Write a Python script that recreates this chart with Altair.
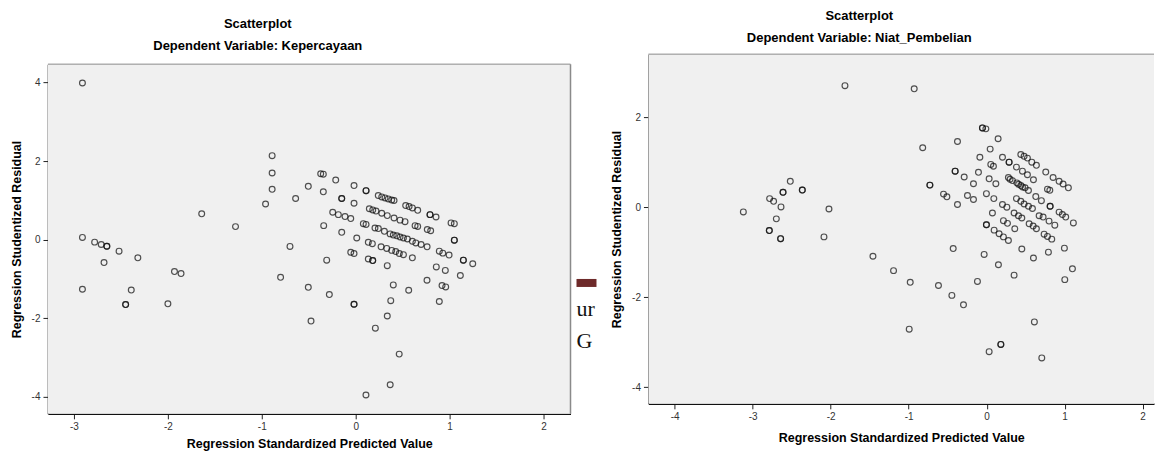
import altair as alt
import pandas as pd

# ---------------- data ----------------
# Left panel: Dependent Variable: Kepercayaan
left_x = [-2.91, -0.89, -0.89, -0.89, -0.96, -0.64, -1.64, -1.28, -2.91, -2.78, -2.71, -2.65, -2.65,
          -2.52, -2.32, -0.70, -2.68, -2.91, -2.39, -2.45, -2.45, -2.00, -1.93, -1.86, -0.80,
          -0.505, -0.373, -0.345, -0.213, -0.345, -0.149, -0.149, -0.018, -0.018, 0.11, 0.11,
          0.24, 0.277, 0.312, 0.347, 0.383, 0.408, 0.532, 0.568, 0.603, 0.66, 0.791, 0.791, 0.855,
          1.015, 1.05, 1.05, 1.05, 1.146, 1.146, 1.246, 1.114, 0.954, 0.858, 0.759, 0.919, 0.958,
          0.89, 0.564, 0.40, 0.373, 0.336, 0.209, 0.463, 0.367, 0.109, -0.018, -0.018, -0.281,
          -0.505, -0.476, -0.309, -0.341, -0.149, 0.011, -0.245, -0.185, -0.114, -0.053, 0.081,
          0.11, 0.145, 0.181, 0.216, 0.277, 0.336, 0.408, 0.472, 0.525, 0.632, 0.66, 0.762, 0.798,
          0.205, 0.241, 0.305, 0.366, 0.40, 0.437, 0.472, 0.508, 0.55, 0.603, 0.64, 0.696, 0.76,
          0.89, 0.927, 0.994, 0.134, 0.177, 0.27, 0.33, 0.383, 0.426, 0.464, 0.508, 0.603,
          -0.053, -0.018, 0.134, 0.181, 0.181, 0.336]
left_y = [3.99, 2.14, 1.70, 1.285, 0.91, 1.05, 0.66, 0.335, 0.06, -0.06, -0.12, -0.165, -0.165,
          -0.29, -0.46, -0.17, -0.58, -1.26, -1.28, -1.65, -1.65, -1.63, -0.81, -0.86, -0.955,
          1.36, 1.68, 1.67, 1.52, 1.22, 1.05, 1.05, 1.38, 0.93, 1.25, 1.25,
          1.125, 1.09, 1.065, 1.04, 1.01, 1.0, 0.87, 0.845, 0.81, 0.75, 0.64, 0.64, 0.58,
          0.43, 0.41, -0.01, -0.01, -0.52, -0.52, -0.61, -0.91, -0.78, -0.69, -1.03, -1.165, -1.2,
          -1.57, -1.285, -1.15, -1.55, -1.94, -2.25, -2.91, -3.69, -3.95, -1.64, -1.64, -1.395,
          -1.21, -2.07, -0.52, 0.36, 0.19, 0.045, 0.70, 0.64, 0.59, 0.54, 0.41,
          0.39, 0.79, 0.76, 0.73, 0.675, 0.615, 0.555, 0.50, 0.46, 0.36, 0.34, 0.26, 0.23,
          0.30, 0.285, 0.215, 0.15, 0.12, 0.10, 0.07, 0.045, 0.02, -0.04, -0.08, -0.12, -0.18,
          -0.29, -0.34, -0.39, -0.065, -0.10, -0.18, -0.22, -0.27, -0.30, -0.35, -0.38, -0.46,
          -0.32, -0.35, -0.49, -0.53, -0.53, -0.66]

# Right panel: Dependent Variable: Niat_Pembelian
right_x = [-1.817, -2.518, -2.611, -2.611, -2.364, -2.364, -2.783, -2.732, -2.637, -3.12, -2.022,
           -2.697, -2.787, -2.787, -2.642, -2.642, -2.086, -1.458, -0.929, -0.054, -0.054, -0.01,
           0.147, -0.82, -0.374, 0.045, -0.087, 0.203, 0.053, 0.087, 0.288, 0.288, 0.438, 0.48,
           0.523, 0.579, 0.638, 0.382, 0.459, 0.523, 0.60, 0.758, 0.852, 0.929, 0.98, 1.048,
           0.78, 0.81, -0.404, -0.404, -0.288, -0.105, 0.032, 0.118, -0.169, -0.728, -0.728,
           -0.553, -0.51, -0.246, -0.169, -0.374, -0.003, 0.092, 0.279, 0.30, 0.331, 0.387, 0.41,
           0.438, 0.46, 0.493, 0.536, 0.63, 0.702, 0.814, 0.814, 0.929, 0.971, 1.014, 1.112,
           0.382, 0.438, 0.48, 0.536, 0.587, 0.074, 0.203, 0.259, 0.352, 0.408, 0.451, 0.673,
           0.724, 0.80, 0.874, -0.003, -0.003, 0.096, 0.16, 0.215, 0.279, 0.215, 0.267, 0.361,
           0.545, 0.596, 0.638, 0.737, 0.78, 0.835, 0.997, 0.792, 0.60, 0.451, 0.151, -0.032,
           -0.429, 0.352, -0.118, 1.10, 1.002, -1.194, -0.98, -0.618, -0.446, -0.297, -0.993,
           0.612, 0.182, 0.182, 0.032, 0.707]
right_y = [2.70, 0.575, 0.33, 0.33, 0.38, 0.38, 0.19, 0.13, 0.005, -0.105, -0.04,
           -0.26, -0.52, -0.52, -0.70, -0.70, -0.66, -1.09, 2.63, 1.76, 1.76, 1.74,
           1.52, 1.32, 1.46, 1.29, 1.11, 1.11, 0.95, 0.91, 1.0, 1.0, 1.17, 1.13,
           1.09, 1.0, 0.93, 0.89, 0.80, 0.72, 0.61, 0.78, 0.66, 0.575, 0.515, 0.43,
           0.40, 0.375, 0.80, 0.80, 0.67, 0.775, 0.63, 0.52, 0.52, 0.49, 0.49,
           0.29, 0.23, 0.26, 0.17, 0.06, 0.30, 0.19, 0.66, 0.62, 0.59, 0.54, 0.51,
           0.48, 0.45, 0.43, 0.37, 0.235, 0.145, 0.02, 0.02, -0.11, -0.165, -0.22, -0.35,
           0.19, 0.13, 0.07, 0.02, -0.03, -0.13, 0.06, 0.0, -0.13, -0.19, -0.24, -0.19,
           -0.22, -0.31, -0.40, -0.39, -0.39, -0.51, -0.59, -0.66, -0.74, -0.30, -0.36, -0.48,
           -0.37, -0.42, -0.48, -0.60, -0.65, -0.71, -0.91, -1.00, -1.13, -0.93, -1.28, -1.05,
           -0.92, -1.51, -1.65, -1.37, -1.61, -1.41, -1.67, -1.74, -1.96, -2.17, -2.71,
           -2.55, -3.05, -3.05, -3.21, -3.35]

left_x_ticks = [-3, -2, -1, 0, 1, 2]
left_y_ticks = [-4, -2, 0, 2, 4]
right_x_ticks = [-4, -3, -2, -1, 0, 1, 2]
right_y_ticks = [-4, -2, 0, 2]

# ---------------- styling ----------------
FONT = "Liberation Sans"
BG = "#F0F0F0"
FRAME = "#8a8a8a"
MINUS_FIX = "replace(datum.label, '\u2212', '-')"

LW, LH, LTOP = 523, 360, 10   # left panel: plot frame from y=LTOP to y=LH
RW, RH = 506, 350

one = pd.DataFrame({"k": [0]})


def pts(df):
    return alt.Chart(df).mark_point(
        shape="circle", filled=False, size=34, stroke="#111", strokeWidth=1.15, opacity=0.72
    )


def title(sub, dx, offset):
    return alt.TitleParams(
        text="Scatterplot", subtitle=sub, anchor="middle", frame="group", dx=dx, offset=offset,
        font=FONT, fontSize=13, fontWeight="bold", color="#000",
        subtitleFont=FONT, subtitleFontSize=13, subtitleFontWeight="bold", subtitleColor="#000",
        subtitlePadding=9,
    )


# ----- left panel -----
ldf = pd.DataFrame({"x": left_x, "y": left_y})
l_bg = alt.Chart(one).mark_rect(fill=BG).encode(
    x=alt.value(0), x2=alt.value(LW), y=alt.value(LTOP), y2=alt.value(LH))
l_top = alt.Chart(one).mark_rule(color=FRAME, strokeWidth=1).encode(
    x=alt.value(0), x2=alt.value(LW), y=alt.value(LTOP))
l_right = alt.Chart(one).mark_rule(color=FRAME, strokeWidth=1.5).encode(
    x=alt.value(LW), y=alt.value(LTOP), y2=alt.value(LH))
l_pts = pts(ldf).encode(
    x=alt.X("x:Q", scale=alt.Scale(domain=[-3.277, 2.287], nice=False, zero=False),
            axis=alt.Axis(values=left_x_ticks, title="Regression Standardized Predicted Value",
                          labelExpr=MINUS_FIX, titlePadding=6)),
    y=alt.Y("y:Q", scale=alt.Scale(domain=[-4.43, 4.47], nice=False, zero=False, range=[LH, LTOP]),
            axis=alt.Axis(values=left_y_ticks, title="Regression Studentized Residual",
                          labelExpr=MINUS_FIX)),
)
# stray fragments from the source document between the two panels
frag_bar = alt.Chart(one).mark_rect(fill="#6E2A2A").encode(
    x=alt.value(LW + 6), x2=alt.value(LW + 26), y=alt.value(225), y2=alt.value(233))
frag_ur = alt.Chart(one).mark_text(
    text="ur", font="Liberation Serif", fontSize=22, align="left", baseline="alphabetic", color="#111"
).encode(x=alt.value(LW + 6), y=alt.value(262))
frag_g = alt.Chart(one).mark_text(
    text="G", font="Liberation Serif", fontSize=22, align="left", baseline="alphabetic", color="#111"
).encode(x=alt.value(LW + 6), y=alt.value(294))

left = alt.layer(l_bg, l_top, l_right, l_pts, frag_bar, frag_ur, frag_g).properties(
    width=LW, height=LH,
    title=title("Dependent Variable: Kepercayaan", -51.5, 1),
)

# ----- right panel -----
rdf = pd.DataFrame({"x": right_x, "y": right_y})
r_bg = alt.Chart(one).mark_rect(fill=BG).encode(
    x=alt.value(0), x2=alt.value(RW), y=alt.value(0), y2=alt.value(RH))
r_top = alt.Chart(one).mark_rule(color=FRAME, strokeWidth=1).encode(
    x=alt.value(0), x2=alt.value(RW), y=alt.value(0))
r_pts = pts(rdf).encode(
    x=alt.X("x:Q", scale=alt.Scale(domain=[-4.337, 2.146], nice=False, zero=False),
            axis=alt.Axis(values=right_x_ticks, title="Regression Standardized Predicted Value",
                          labelExpr=MINUS_FIX)),
    y=alt.Y("y:Q", scale=alt.Scale(domain=[-4.37, 3.40], nice=False, zero=False),
            axis=alt.Axis(values=right_y_ticks, title="Regression Studentized Residual",
                          labelExpr=MINUS_FIX)),
)
right = alt.layer(r_bg, r_top, r_pts).properties(
    width=RW, height=RH,
    title=title("Dependent Variable: Niat_Pembelian", -42, 9),
)

chart = alt.hconcat(left, right, spacing=14).properties(
    padding={"left": 2, "top": 1, "right": 0, "bottom": 0},
    background="#ffffff",
).configure_view(strokeWidth=0).configure_axis(
    grid=False,
    domainColor="#111", domainWidth=1.5,
    tickColor="#222", tickWidth=1, tickSize=5,
    labelFont=FONT, labelFontSize=10, labelColor="#333", labelPadding=3,
    titleFont=FONT, titleFontSize=12.5, titleFontWeight="bold", titleColor="#000",
).configure_axisX(titlePadding=10).configure_axisY(titlePadding=8)

chart.save("out.html", embed_options={"renderer": "svg", "actions": False})
